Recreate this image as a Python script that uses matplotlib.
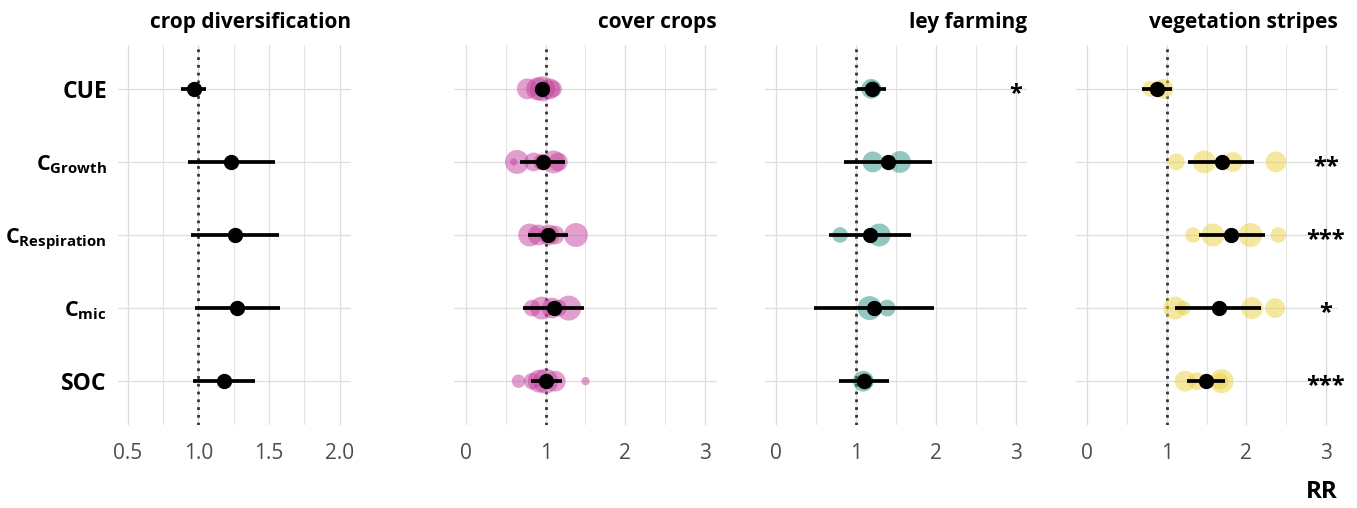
import numpy as np
import matplotlib
matplotlib.use('Agg')
import matplotlib.pyplot as plt
from matplotlib.ticker import MultipleLocator

plt.rcParams['font.family'] = ['Open Sans', 'DejaVu Sans']
plt.rcParams['mathtext.fontset'] = 'custom'
plt.rcParams['mathtext.rm'] = 'Open Sans'
plt.rcParams['mathtext.bf'] = 'Open Sans:bold'
plt.rcParams['mathtext.it'] = 'Open Sans:italic'

# Response variables, top to bottom
variables = ['CUE', r'$\mathbf{C_{Growth}}$', r'$\mathbf{C_{Respiration}}$',
             r'$\mathbf{C_{mic}}$', 'SOC']
practices = ['crop diversification', 'cover crops', 'ley farming', 'vegetation stripes']

# Pooled response ratio with confidence interval (one value per variable)
rr_mean = {
    'crop diversification': [0.967, 1.23, 1.258, 1.275, 1.18],
    'cover crops':          [0.95, 0.967, 1.025, 1.10, 1.00],
    'ley farming':          [1.20, 1.40, 1.175, 1.22, 1.10],
    'vegetation stripes':   [0.88, 1.69, 1.81, 1.65, 1.49],
}
rr_low = {
    'crop diversification': [0.877, 0.924, 0.948, 0.972, 0.964],
    'cover crops':          [0.92, 0.683, 0.775, 0.71, 0.82],
    'ley farming':          [1.01, 0.85, 0.66, 0.47, 0.79],
    'vegetation stripes':   [0.695, 1.27, 1.40, 1.10, 1.26],
}
rr_high = {
    'crop diversification': [1.054, 1.54, 1.569, 1.578, 1.40],
    'cover crops':          [0.99, 1.24, 1.28, 1.48, 1.20],
    'ley farming':          [1.38, 1.95, 1.69, 1.97, 1.41],
    'vegetation stripes':   [1.07, 2.10, 2.23, 2.18, 1.73],
}

# Individual studies: response ratio and weight, per variable
study_rr = {
    'crop diversification': [[], [], [], [], []],
    'cover crops': [
        [0.77, 0.90, 0.96, 1.05, 1.10],
        [0.64, 0.60, 0.85, 0.95, 1.10, 1.16],
        [0.80, 0.91, 1.04, 1.12, 1.38],
        [0.83, 0.95, 1.08, 1.16, 1.29],
        [0.66, 0.83, 0.92, 1.00, 1.12, 1.50],
    ],
    'ley farming': [
        [1.19, 1.21],
        [1.21, 1.55],
        [0.80, 1.29],
        [1.17, 1.39],
        [1.09, 1.11],
    ],
    'vegetation stripes': [
        [0.79, 0.89, 0.96],
        [1.12, 1.47, 1.83, 2.37],
        [1.33, 1.58, 2.05, 2.40],
        [1.10, 1.21, 2.07, 2.36],
        [1.23, 1.38, 1.69, 1.67],
    ],
}
study_weight = {
    'crop diversification': [[], [], [], [], []],
    'cover crops': [
        [10, 11, 12, 10, 8],
        [11.5, 3.5, 9, 8, 11, 9],
        [11, 10, 10, 9, 11.5],
        [8, 11, 10, 8, 12],
        [6.5, 8, 11, 12, 10, 4],
    ],
    'ley farming': [
        [9.5, 8],
        [10, 10.5],
        [7.5, 11],
        [11.5, 8],
        [10, 8],
    ],
    'vegetation stripes': [
        [7.5, 8, 9.5],
        [8, 11, 9.5, 10],
        [7.5, 11, 11.5, 7.5],
        [11, 7, 10.5, 9.5],
        [10, 8.5, 11.5, 8],
    ],
}

# Significance stars
signif = {
    'crop diversification': ['', '', '', '', ''],
    'cover crops':          ['', '', '', '', ''],
    'ley farming':          ['*', '', '', '', ''],
    'vegetation stripes':   ['', '**', '***', '*', '***'],
}

colors = {
    'crop diversification': '#444444',
    'cover crops': '#C3419B',
    'ley farming': '#2A9080',
    'vegetation stripes': '#EBD141',
}

W, H = 1357, 508
fig = plt.figure(figsize=(W / 100, H / 100), dpi=100)

# panel pixel extents (left, right)
panel_px = [(118, 351), (454, 717), (765, 1027), (1076, 1338)]
top_px, bot_px = 45, 425
xlims = [(0.43, 2.08), (-0.15, 3.15), (-0.14, 3.14), (-0.14, 3.15)]

ypos = np.arange(len(variables))[::-1] + 1  # CUE at top

for i, p in enumerate(practices):
    l, r = panel_px[i]
    ax = fig.add_axes([l / W, 1 - bot_px / H, (r - l) / W, (bot_px - top_px) / H])
    ax.set_xlim(*xlims[i])
    ax.set_ylim(0.4, len(variables) + 0.6)
    for s in ax.spines.values():
        s.set_visible(False)

    if i == 0:
        ax.set_xticks([0.5, 1.0, 1.5, 2.0])
        ax.set_xticklabels(['0.5', '1.0', '1.5', '2.0'])
        ax.xaxis.set_minor_locator(MultipleLocator(0.25))
    else:
        ax.set_xticks([0, 1, 2, 3])
        ax.set_xticklabels(['0', '1', '2', '3'])
        ax.xaxis.set_minor_locator(MultipleLocator(0.5))
    ax.set_yticks(ypos)
    if i == 0:
        ax.set_yticklabels(variables, fontweight='bold')
        for lab in ax.get_yticklabels():
            lab.set_fontsize(15.5 if '$' in lab.get_text() else 16.5)
    else:
        ax.set_yticklabels([])
    ax.tick_params(axis='both', which='both', length=0)
    ax.tick_params(axis='x', pad=13, labelsize=15, labelcolor='#4D4D4D')
    ax.tick_params(axis='y', pad=8)
    ax.grid(True, which='major', color='#DEDEDE', lw=0.9)
    ax.grid(True, which='minor', axis='x', color='#E4E4E4', lw=0.8)
    ax.set_axisbelow(True)

    ax.axvline(1, color='#333333', lw=2.0, ls=(0, (1, 1.8)), zorder=2)

    for k in range(len(variables)):
        xs = study_rr[p][k]
        ws = study_weight[p][k]
        if xs:
            ax.scatter(xs, [ypos[k]] * len(xs), s=[(1.5 * w) ** 2 for w in ws],
                       color=colors[p], alpha=0.5, lw=0, zorder=3)
        ax.plot([rr_low[p][k], rr_high[p][k]], [ypos[k], ypos[k]],
                color='black', lw=2.7, solid_capstyle='butt', zorder=4)
        ax.plot(rr_mean[p][k], ypos[k], 'o', color='black', ms=10, zorder=5)
        if signif[p][k]:
            ax.text(3, ypos[k] - 0.07, signif[p][k], ha='center', va='center',
                    fontsize=17, fontweight='bold', color='black', zorder=6)

    ax.set_title(p, loc='right', fontsize=15, fontweight='bold', pad=12)

fig.text(1338 / W, 1 - 492 / H, 'RR', ha='right', va='center',
         fontsize=17.5, fontweight='bold')

plt.savefig('out.png', dpi=100)
